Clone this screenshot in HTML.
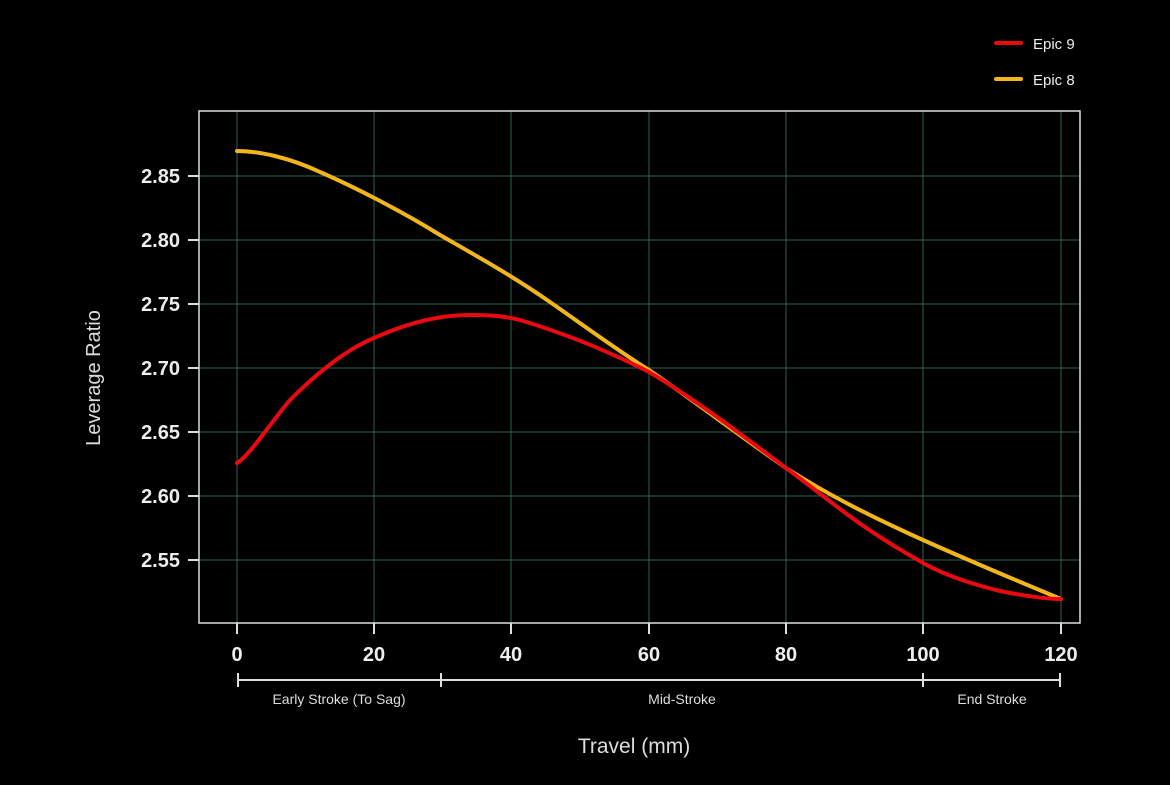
<!DOCTYPE html>
<html><head><meta charset="utf-8"><style>
html,body{margin:0;padding:0;background:#000;}
svg{display:block;font-family:"Liberation Sans",sans-serif;}
</style></head><body>
<svg width="1170" height="785" viewBox="0 0 1170 785">
<rect width="1170" height="785" fill="#000"/>
<g stroke="#276558" stroke-width="1">
<line x1="237" y1="111" x2="237" y2="623"/><line x1="374" y1="111" x2="374" y2="623"/>
<line x1="511" y1="111" x2="511" y2="623"/><line x1="649" y1="111" x2="649" y2="623"/>
<line x1="786" y1="111" x2="786" y2="623"/><line x1="923" y1="111" x2="923" y2="623"/>
<line x1="1061" y1="111" x2="1061" y2="623"/>
<line x1="199" y1="176" x2="1080" y2="176"/><line x1="199" y1="240" x2="1080" y2="240"/>
<line x1="199" y1="304" x2="1080" y2="304"/><line x1="199" y1="368" x2="1080" y2="368"/>
<line x1="199" y1="432" x2="1080" y2="432"/><line x1="199" y1="496" x2="1080" y2="496"/>
<line x1="199" y1="560" x2="1080" y2="560"/>
</g>
<rect x="199" y="111" width="881" height="512" fill="none" stroke="#ddd" stroke-width="1.5"/>
<g stroke="#ddd" stroke-width="2">
<line x1="237" y1="623" x2="237" y2="634"/><line x1="374" y1="623" x2="374" y2="634"/>
<line x1="511" y1="623" x2="511" y2="634"/><line x1="649" y1="623" x2="649" y2="634"/>
<line x1="786" y1="623" x2="786" y2="634"/><line x1="923" y1="623" x2="923" y2="634"/>
<line x1="1061" y1="623" x2="1061" y2="634"/>
<line x1="188" y1="176" x2="199" y2="176"/><line x1="188" y1="240" x2="199" y2="240"/>
<line x1="188" y1="304" x2="199" y2="304"/><line x1="188" y1="368" x2="199" y2="368"/>
<line x1="188" y1="432" x2="199" y2="432"/><line x1="188" y1="496" x2="199" y2="496"/>
<line x1="188" y1="560" x2="199" y2="560"/>
<line x1="238" y1="680" x2="1060" y2="680"/>
<line x1="238" y1="673" x2="238" y2="687"/><line x1="441" y1="673" x2="441" y2="687"/>
<line x1="923" y1="673" x2="923" y2="687"/><line x1="1060" y1="673" x2="1060" y2="687"/>
</g>
<g fill="#eee" font-size="20" font-weight="bold" text-anchor="end">
<text x="180" y="183">2.85</text><text x="180" y="247">2.80</text><text x="180" y="311">2.75</text>
<text x="180" y="375">2.70</text><text x="180" y="439">2.65</text><text x="180" y="503">2.60</text>
<text x="180" y="567">2.55</text>
</g>
<g fill="#eee" font-size="20" font-weight="bold" text-anchor="middle">
<text x="237" y="661">0</text><text x="374" y="661">20</text><text x="511" y="661">40</text>
<text x="649" y="661">60</text><text x="786" y="661">80</text><text x="923" y="661">100</text>
<text x="1061" y="661">120</text>
</g>
<g fill="#ddd" font-size="14" text-anchor="middle">
<text x="339" y="704">Early Stroke (To Sag)</text>
<text x="682" y="704">Mid-Stroke</text>
<text x="992" y="704">End Stroke</text>
</g>
<text x="634" y="753" fill="#ddd" font-size="21" text-anchor="middle">Travel (mm)</text>
<text transform="translate(100,378) rotate(-90)" fill="#ddd" font-size="20" text-anchor="middle">Leverage Ratio</text>
<path d="M237,151 C260,151 290,158 320,172 C350,185 400,210 440,235 C480,258 511,275 550,302 C590,330 620,352 649,370 C690,398 740,436 786,468 C830,496 870,516 923,540 C970,561 1020,582 1061,599" fill="none" stroke="#f2b61c" stroke-width="4" stroke-linecap="round"/>
<path d="M237,463 C250,455 265,430 290,400 C315,375 345,350 374,338 C410,322 440,315 470,315 C490,315 505,316 520,320 C570,335 610,352 649,372 C690,396 730,426 786,468 C820,493 850,518 880,537 C900,550 915,558 923,563 C950,578 980,586 1000,591 C1025,596 1045,599 1061,599" fill="none" stroke="#e80a10" stroke-width="4" stroke-linecap="round"/>
<line x1="996" y1="43" x2="1021" y2="43" stroke="#e80a10" stroke-width="4" stroke-linecap="round"/>
<line x1="996" y1="79" x2="1021" y2="79" stroke="#f2b61c" stroke-width="4" stroke-linecap="round"/>
<text x="1033" y="49" fill="#eee" font-size="15">Epic 9</text>
<text x="1033" y="85" fill="#eee" font-size="15">Epic 8</text>
</svg>
</body></html>
